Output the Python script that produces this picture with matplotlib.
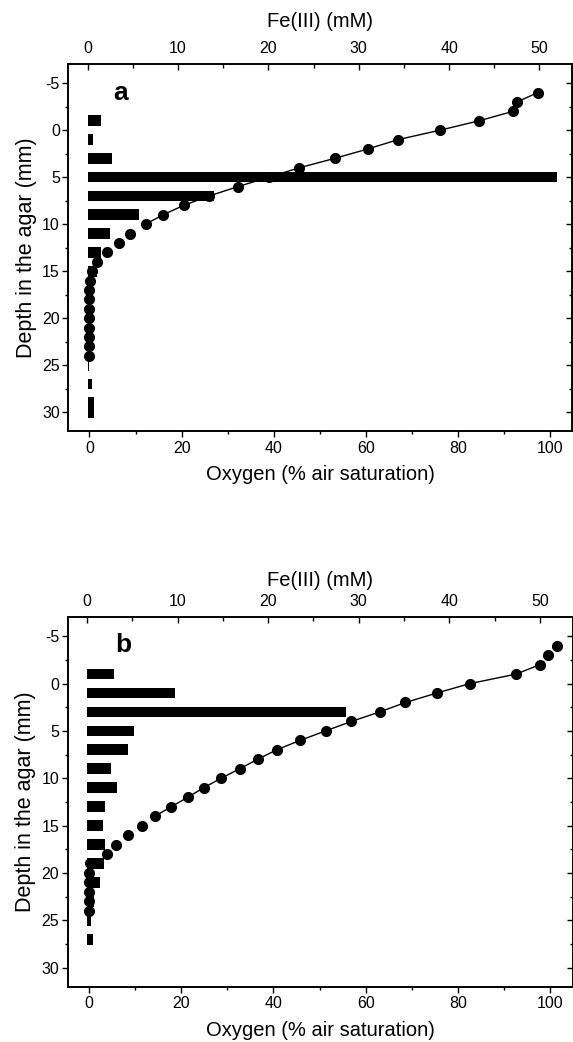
import matplotlib
matplotlib.use("Agg")
import matplotlib.pyplot as plt
from matplotlib.ticker import MultipleLocator

plt.rcParams['font.family'] = ['Liberation Sans', 'DejaVu Sans']
plt.rcParams['axes.unicode_minus'] = False

# ---------------- data: panel a ----------------
a_o2_depth = [-4, -3, -2, -1, 0, 1, 2, 3, 4, 5, 6, 7, 8, 9, 10, 11, 12, 13, 14,
              15, 16, 17, 18, 19, 20, 21, 22, 23, 24]
a_o2 = [97.4, 92.9, 92.0, 84.7, 76.2, 67.1, 60.5, 53.3, 45.6, 39.0, 32.3, 26.0,
        20.5, 16.0, 12.2, 8.8, 6.5, 3.7, 1.6, 0.5, 0.1, 0.0, 0.0, 0.0, 0.0, 0.0,
        0.0, 0.0, 0.0]
a_line_last_depth = 10
a_fe_depth = [-1, 1, 3, 5, 7, 9, 11, 13, 15, 25, 27, 29, 30]
a_fe = [1.5, 0.6, 2.7, 51.9, 14.0, 5.7, 2.5, 1.5, 1.0, 0.1, 0.5, 0.7, 0.7]

# ---------------- data: panel b ----------------
b_o2_depth = [-4, -3, -2, -1, 0, 1, 2, 3, 4, 5, 6, 7, 8, 9, 10, 11, 12, 13, 14,
              15, 16, 17, 18, 19, 20, 21, 22, 23, 24]
b_o2 = [101.5, 99.6, 97.7, 92.6, 82.6, 75.4, 68.6, 63.0, 56.9, 51.3, 45.8, 40.7,
        36.6, 32.7, 28.7, 24.9, 21.5, 17.9, 14.4, 11.5, 8.6, 5.9, 3.9, 0.3, 0.0,
        0.0, 0.0, 0.0, 0.0]
b_line_first_depth = -2
b_line_last_depth = 14
b_fe_depth = [-1, 1, 3, 5, 7, 9, 11, 13, 15, 17, 19, 21, 23, 25, 27]
b_fe = [3.0, 9.7, 28.6, 5.2, 4.55, 2.6, 3.34, 1.97, 1.8, 1.97, 1.9, 1.4, 0.83, 0.4, 0.65]

panel_labels = ['a', 'b']
y_ticks = [-5, 0, 5, 10, 15, 20, 25, 30]

fig = plt.figure(figsize=(5.73, 10.42), dpi=100)

W, H = 573.0, 1042.0
boxes = [
    (68.3, 572.0, 64.3, 431.0),
    (67.5, 572.5, 617.3, 986.5),
]

panels = [
    (a_o2_depth, a_o2, a_o2_depth[0], a_line_last_depth, a_fe_depth, a_fe),
    (b_o2_depth, b_o2, b_line_first_depth, b_line_last_depth, b_fe_depth, b_fe),
]
label_pos = [(0.103, 0.902), (0.110, 0.907)]
fe_labelpads = [10, 6]

for i, (box, pdata) in enumerate(zip(boxes, panels)):
    l, r, t, b = box
    ax = fig.add_axes([l / W, 1 - b / H, (r - l) / W, (b - t) / H])
    od, ov, lfirst, llast, fd, fv = pdata

    # oxygen profile (bottom axis)
    ld = [d for d in od if lfirst <= d <= llast]
    lv = [v for d, v in zip(od, ov) if lfirst <= d <= llast]
    ax.plot(lv, ld, color='black', lw=1.0, zorder=2)
    ax.plot(ov, od, 'o', color='black', ms=7, zorder=3)
    ax.set_xlim(-4.6, 104.8)
    ax.set_ylim(32, -7)
    ax.xaxis.set_major_locator(MultipleLocator(20))
    ax.xaxis.set_minor_locator(MultipleLocator(10))
    ax.yaxis.set_major_locator(MultipleLocator(5))
    ax.yaxis.set_minor_locator(MultipleLocator(2.5))
    ax.set_yticks(y_ticks)
    ax.tick_params(axis='both', which='both', direction='out', labelsize=11.5,
                   width=1.0, colors='black')
    ax.tick_params(axis='both', which='major', length=4)
    ax.tick_params(axis='both', which='minor', length=2.2)
    ax.tick_params(axis='x', pad=3)
    ax.tick_params(axis='y', pad=2)
    ax.yaxis.set_ticks_position('left')
    ax.xaxis.set_ticks_position('bottom')
    ax.set_xlabel('Oxygen (% air saturation)', fontsize=14.5, labelpad=7)
    ax.set_ylabel('Depth in the agar (mm)', fontsize=15.5, labelpad=4)

    # Fe(III) bars (top axis)
    ax2 = ax.twiny()
    ax2.barh(fd, fv, height=1.14, color='black', zorder=4)
    ax2.set_xlim(-2.15, 53.6)
    ax2.xaxis.set_major_locator(MultipleLocator(10))
    ax2.xaxis.set_minor_locator(MultipleLocator(5))
    ax2.tick_params(axis='x', which='both', direction='in', labelsize=11.5,
                    width=1.0, pad=6)
    ax2.tick_params(axis='x', which='major', length=4.5)
    ax2.tick_params(axis='x', which='minor', length=3)
    ax2.set_xlabel('Fe(III) (mM)', fontsize=14.5, labelpad=fe_labelpads[i])
    ax2.yaxis.set_visible(True)
    ax2.yaxis.set_ticks_position('right')
    ax2.tick_params(axis='y', which='both', direction='in', labelright=False,
                    labelleft=False, width=1.0)
    ax2.tick_params(axis='y', which='major', length=4)
    ax2.tick_params(axis='y', which='minor', length=2.2)

    for sp in list(ax.spines.values()) + list(ax2.spines.values()):
        sp.set_linewidth(1.2)
        sp.set_color('black')

    ax.text(label_pos[i][0], label_pos[i][1], panel_labels[i], transform=ax.transAxes,
            fontsize=19, fontweight='bold', ha='center', va='baseline', zorder=10)

fig.savefig('out.png', dpi=100)
